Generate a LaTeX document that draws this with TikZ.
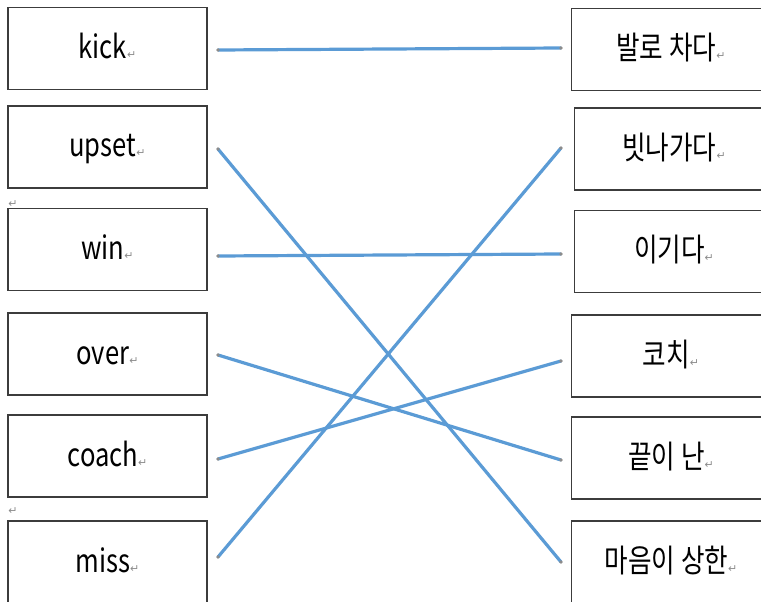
\documentclass[tikz,border=0pt]{standalone}
\usepackage{fontspec}
\setmainfont{Noto Sans CJK KR}[FakeStretch=0.8]
\newfontfamily\arrowfont{DejaVu Sans}
\usepackage{xcolor}
\usepackage{tikz}
\definecolor{linkblue}{HTML}{5B9BD5}
\definecolor{boxgray}{HTML}{3C3C3C}
\definecolor{markgray}{HTML}{8C8C8C}
\newcommand{\ret}{{\arrowfont\fontsize{11}{11}\selectfont\textcolor{markgray}{↵}}}

\begin{document}
\begin{tikzpicture}[x=1pt,y=-1pt,
    word/.style={draw=boxgray, line width=1.7pt, minimum width=199pt, minimum height=82pt,
        inner sep=0pt, text height=26pt, text depth=6pt, font=\fontsize{32}{36}\selectfont},
    link/.style={linkblue, line width=3.2pt},
    enddot/.style={fill=markgray}]
    \useasboundingbox (0,0) rectangle (761,602);

    % English words
    \node[word] (kick)  at (107.5,48.5) {kick\ret};
    \node[word] (upset) at (107.5,147)  {upset\ret};
    \node[word] (win)   at (107.5,249.5) {win\ret};
    \node[word] (over)  at (107.5,354)  {over\ret};
    \node[word] (coach) at (107.5,456)  {coach\ret};
    \node[word] (miss)  at (107.5,562)  {miss\ret};
    \node (gapa) at (13,204) {\ret};
    \node (gapb) at (13,511) {\ret};

    % Korean meanings
    \node[word] (chada)  at (671,49.5) {발로 차다\ret};
    \node[word] (bitna)  at (674,149)  {빗나가다\ret};
    \node[word] (igida)  at (674,251.5) {이기다\ret};
    \node[word] (kochi)  at (671,356)  {코치\ret};
    \node[word] (kkeut)  at (671,458)  {끝이 난\ret};
    \node[word] (maeum)  at (671,562)  {마음이 상한\ret};

    % Line ends
    \coordinate (kickL)  at (218,50);
    \coordinate (upsetL) at (218,149);
    \coordinate (winL)   at (218,256);
    \coordinate (overL)  at (218,355);
    \coordinate (coachL) at (218,459);
    \coordinate (missL)  at (218,557);
    \coordinate (chadaR) at (561,48);
    \coordinate (bitnaR) at (561,148);
    \coordinate (igidaR) at (561,254);
    \coordinate (kochiR) at (561,361);
    \coordinate (kkeutR) at (561,460);
    \coordinate (maeumR) at (561,562);

    % Matching lines
    \draw[link] (kickL) -- (chadaR);
    \draw[link] (upsetL) -- (maeumR);
    \draw[link] (winL) -- (igidaR);
    \draw[link] (overL) -- (kkeutR);
    \draw[link] (coachL) -- (kochiR);
    \draw[link] (missL) -- (bitnaR);

    \foreach \p in {kickL,upsetL,winL,overL,coachL,missL,chadaR,bitnaR,igidaR,kochiR,kkeutR,maeumR}
        \fill[enddot] (\p) circle (1.8);
\end{tikzpicture}
\end{document}
